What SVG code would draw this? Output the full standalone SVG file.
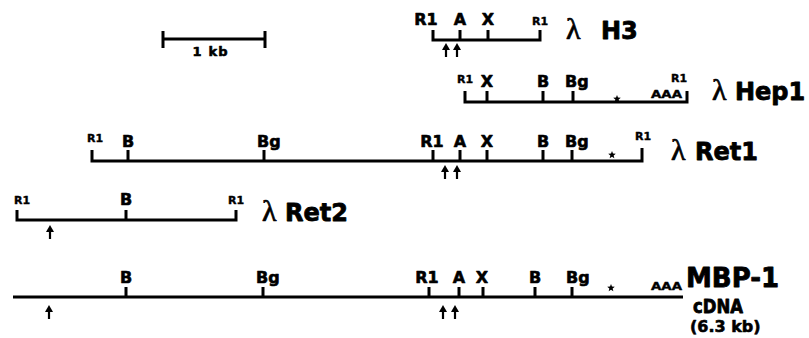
<svg xmlns="http://www.w3.org/2000/svg" xmlns:xlink="http://www.w3.org/1999/xlink" width="809" height="338" viewBox="0 0 809 338">
<style>
.bar{fill:none;stroke:#000;stroke-width:3;stroke-linejoin:miter;stroke-linecap:butt}
.tick{stroke:#000;stroke-width:3}
text{stroke:#000;stroke-width:0.6;stroke-linejoin:round}
.lab{font-family:"DejaVu Sans","Liberation Sans",sans-serif;font-weight:bold;font-size:16px;fill:#000;text-anchor:middle}
.sm{font-family:"DejaVu Sans","Liberation Sans",sans-serif;font-weight:bold;font-size:11px;fill:#000;text-anchor:middle;stroke-width:0.4}
.aaa{font-family:"DejaVu Sans","Liberation Sans",sans-serif;font-weight:bold;font-size:10px;fill:#000;stroke-width:0.4}
.name{font-family:"DejaVu Sans","Liberation Sans",sans-serif;font-weight:bold;font-size:24px;fill:#000;stroke-width:0.8}
.lam{font-family:"Liberation Serif","DejaVu Serif",serif;font-size:30px;fill:#000;stroke-width:0.7}
</style>
<defs>
<g id="up"><line x1="0" y1="5" x2="0" y2="14" stroke="#000" stroke-width="2.2"/><polygon points="-4,7 0,0 4,7" fill="#000"/></g>
<polygon id="star" points="0,-4 1,-1.4 3.8,-1.24 1.65,0.53 2.35,3.24 0,1.73 -2.35,3.24 -1.65,0.53 -3.8,-1.24 -1,-1.4" fill="#000"/>
</defs>
<rect width="809" height="338" fill="#fff"/>

<g id="scalebar">
<path class="bar" d="M163 39 H265 M163 31 V48 M265 31 V48"/>
<text class="lab" x="210" y="56" style="font-size:13px" textLength="35">1 kb</text>
</g>

<g id="lambdaH3">
<path class="bar" d="M433 30 V40 H540 V30"/>
<path class="tick" d="M460 30 V40 M488 30 V40"/>
<text class="lab" x="426" y="25">R1</text>
<text class="lab" x="460" y="25">A</text>
<text class="lab" x="488" y="25">X</text>
<text class="sm" x="540" y="25">R1</text>
<use xlink:href="#up" x="446" y="43"/>
<use xlink:href="#up" x="457" y="43"/>
<text class="lam" x="566" y="39">λ</text>
<text class="name" x="601" y="39">H3</text>
</g>

<g id="lambdaHep1">
<path class="bar" d="M465 91 V102 H687 V91"/>
<path class="tick" d="M487 91 V102 M543 91 V102 M573 91 V102"/>
<text class="sm" x="465" y="83">R1</text>
<text class="lab" x="487" y="87">X</text>
<text class="lab" x="543" y="87">B</text>
<text class="lab" x="565" y="87" style="text-anchor:start">Bg</text>
<use xlink:href="#star" x="617" y="99"/>
<text class="aaa" x="651" y="98" textLength="31" lengthAdjust="spacingAndGlyphs">AAA</text>
<text class="sm" x="679" y="82">R1</text>
<text class="lam" x="712" y="100">λ</text>
<text class="name" x="735" y="100">Hep1</text>
</g>

<g id="lambdaRet1">
<path class="bar" d="M92 150 V161 H642 V148"/>
<path class="tick" d="M128 150 V161 M264 150 V161 M433 150 V161 M460 150 V161 M487 150 V161 M543 150 V161 M572 150 V161"/>
<text class="sm" x="95" y="142">R1</text>
<text class="lab" x="128" y="147">B</text>
<text class="lab" x="257" y="147" style="text-anchor:start">Bg</text>
<text class="lab" x="432" y="147">R1</text>
<text class="lab" x="460" y="147">A</text>
<text class="lab" x="487" y="147">X</text>
<text class="lab" x="543" y="147">B</text>
<text class="lab" x="565" y="147" style="text-anchor:start">Bg</text>
<use xlink:href="#star" x="612" y="155"/>
<text class="sm" x="643" y="140">R1</text>
<use xlink:href="#up" x="445" y="165"/>
<use xlink:href="#up" x="457" y="165"/>
<text class="lam" x="671" y="160">λ</text>
<text class="name" x="695" y="160">Ret1</text>
</g>

<g id="lambdaRet2">
<path class="bar" d="M17 210 V220 H236 V210"/>
<path class="tick" d="M126 210 V220"/>
<text class="sm" x="22" y="204">R1</text>
<text class="lab" x="126" y="205">B</text>
<text class="sm" x="236" y="204">R1</text>
<use xlink:href="#up" x="50" y="225"/>
<text class="lam" x="262" y="221">λ</text>
<text class="name" x="285" y="221">Ret2</text>
</g>

<g id="MBP1">
<path class="bar" d="M13 297 H683"/>
<path class="tick" d="M126 287 V297 M263 287 V297 M429 287 V297 M459 287 V297 M483 287 V297 M535 287 V297 M572 287 V297"/>
<text class="lab" x="126" y="283">B</text>
<text class="lab" x="256" y="283" style="text-anchor:start">Bg</text>
<text class="lab" x="427" y="283">R1</text>
<text class="lab" x="459" y="283">A</text>
<text class="lab" x="482" y="283">X</text>
<text class="lab" x="535" y="283">B</text>
<text class="lab" x="566" y="283" style="text-anchor:start">Bg</text>
<use xlink:href="#star" x="611" y="288"/>
<text class="aaa" x="651" y="290" textLength="31" lengthAdjust="spacingAndGlyphs">AAA</text>
<use xlink:href="#up" x="49" y="305"/>
<use xlink:href="#up" x="443" y="305"/>
<use xlink:href="#up" x="455" y="305"/>
<text class="name" x="686" y="287" style="font-size:26px">MBP-1</text>
<text class="name" x="693" y="313" style="font-size:19px" textLength="50" lengthAdjust="spacingAndGlyphs">cDNA</text>
<text class="name" x="690" y="332" style="font-size:16px;stroke-width:0.6">(6.3 kb)</text>
</g>
</svg>
